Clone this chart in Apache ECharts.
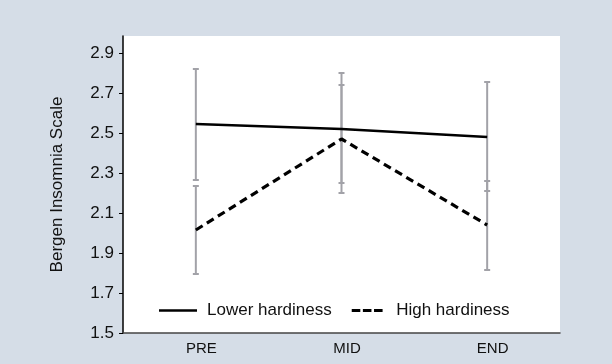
<!DOCTYPE html>
<html><head><meta charset="utf-8">
<script src="https://cdn.jsdelivr.net/npm/echarts@6/dist/echarts.min.js"></script>
<style>html,body{margin:0;padding:0;background:#d5dde7;}#c{width:612px;height:364px;}</style>
</head><body><div id="c"></div>
<script>
const categories = ['PRE', 'MID', 'END'];
const yTicks = [1.5, 1.7, 1.9, 2.1, 2.3, 2.5, 2.7, 2.9];
const lowerMean = [2.545, 2.52, 2.48];
const lowerLo = [2.265, 2.25, 2.21];
const lowerHi = [2.82, 2.80, 2.755];
const highMean = [2.015, 2.47, 2.04];
const highLo = [1.795, 2.20, 1.815];
const highHi = [2.235, 2.74, 2.26];

const errData = [];
categories.forEach((c, i) => {
  errData.push([i, lowerLo[i], lowerHi[i]]);
  errData.push([i, highLo[i], highHi[i]]);
});

function renderErr(params, api) {
  const x = api.value(0);
  const lo = api.coord([x, api.value(1)]);
  const hi = api.coord([x, api.value(2)]);
  const hw = 3;
  const style = { stroke: '#a2a2a8', lineWidth: 2 };
  return {
    type: 'group',
    children: [
      { type: 'line', shape: { x1: lo[0], y1: lo[1], x2: hi[0], y2: hi[1] }, style },
      { type: 'line', shape: { x1: lo[0] - hw, y1: lo[1], x2: lo[0] + hw, y2: lo[1] }, style },
      { type: 'line', shape: { x1: hi[0] - hw, y1: hi[1], x2: hi[0] + hw, y2: hi[1] }, style }
    ]
  };
}

const chart = echarts.init(document.getElementById('c'), null, { renderer: 'canvas' });
chart.setOption({
  backgroundColor: '#d5dde7',
  animation: false,
  grid: { left: 123, right: 52, top: 36, bottom: 31, show: true, backgroundColor: '#ffffff', borderWidth: 0 },
  legend: {
    left: 159, top: 302, padding: 0, itemWidth: 38, itemHeight: 3, itemGap: 20,
    textStyle: { fontFamily: 'Liberation Sans', fontSize: 17, color: '#111', padding: [0, 0, 0, 5] },
    data: [
      { name: 'Lower hardiness', icon: 'path://M0,0h38v2.5h-38z' },
      { name: 'High hardiness', icon: 'path://M0,0h10v3.5h-10z M13,0h10v3.5h-10z M26,0h10v3.5h-10z' }
    ]
  },
  xAxis: {
    type: 'category', data: categories, boundaryGap: true,
    axisLine: { lineStyle: { color: '#444', width: 1.5 } },
    axisTick: { show: false },
    axisLabel: { fontFamily: 'Liberation Sans', fontSize: 15, color: '#111', margin: 8, padding: [0, 0, 0, 11] },
    splitLine: { show: false }
  },
  yAxis: {
    type: 'value', min: 1.5, max: 2.985,
    name: 'Bergen Insomnia Scale', nameLocation: 'middle', nameGap: 57, nameRotate: 90,
    nameTextStyle: { fontFamily: 'Liberation Sans', fontSize: 17, color: '#111' },
    axisLine: { show: true, lineStyle: { color: '#000', width: 1.5 } },
    axisTick: { show: true, length: 4, customValues: yTicks, lineStyle: { color: '#000' } },
    axisLabel: { customValues: yTicks, formatter: v => v.toFixed(1), fontFamily: 'Liberation Sans', fontSize: 17, color: '#111', margin: 9 },
    splitLine: { show: false }
  },
  series: [
    { type: 'custom', renderItem: renderErr, data: errData, z: 1, silent: true, encode: { x: 0, y: [1, 2] } },
    { name: 'Lower hardiness', type: 'line', data: lowerMean, symbol: 'none', z: 3,
      lineStyle: { color: '#000', width: 2.5, type: 'solid' }, itemStyle: { color: '#000' } },
    { name: 'High hardiness', type: 'line', data: highMean, symbol: 'none', z: 3,
      lineStyle: { color: '#000', width: 3.2, type: [8, 5] }, itemStyle: { color: '#000' } }
  ]
});
</script></body></html>
